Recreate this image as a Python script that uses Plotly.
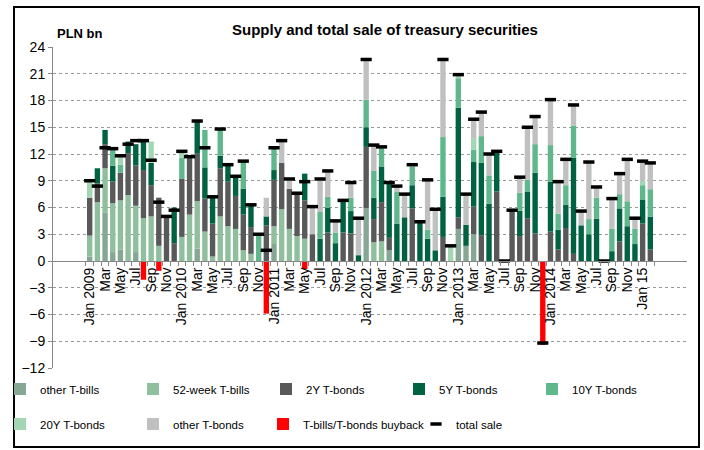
import plotly.graph_objects as go

months = ["Jan", "Feb", "Mar", "Apr", "May", "Jun", "Jul", "Aug", "Sep", "Oct", "Nov", "Dec"]
categories = [f"{m} {y}" for y in range(2009, 2016) for m in months][:74]
tick_text = []
for i, c in enumerate(categories):
    m, y = c.split()
    if i % 2 == 1:
        tick_text.append("")
    elif m == "Jan":
        tick_text.append("Jan 15" if y == "2015" else c)
    else:
        tick_text.append(m)

other_tbills = [0.5, 0, 5.4, 1.0, 1.3, 0, 1.0, 0, 0, 0, 0, 0,
                0, 0, 1.4, 0, 0, 0, 0, 0, 0, 0, 0, 0,
                2.0, 0, 0, 0, 0, 0, 0, 0, 0, 0, 0, 0,
                5.9, 0, 0, 1.2, 0, 0, 0, 0, 0, 0, 0, 0,
                3.6, 1.7, 3.0, 0, 0, 0, 0, 0, 0, 0, 0, 0,
                0, 0, 0, 0, 0, 0, 0, 0, 0, 0, 0, 0,
                0, 0]
week52_tbills = [2.35, 6.6, 5.0, 5.5, 5.5, 7.4, 5.2, 4.8, 5.0, 1.7, 0, 0,
                 2.7, 5.2, 5.3, 3.3, 0.5, 5.0, 3.9, 3.6, 1.2, 0.8, 0, 0,
                 1.9, 5.8, 3.6, 2.8, 2.5, 0, 0, 0, 0, 0, 0, 0,
                 0, 2.1, 2.2, 0, 0, 0, 0, 0, 0, 0, 0, 0,
                 0, 0, 0, 0, 0, 0, 0, 0, 0, 0, 0, 0,
                 0, 0, 0, 0, 0, 0, 0, 0, 0, 0, 0, 0,
                 0, 0]
bonds_2y = [4.25, 2.1, 2.7, 2.4, 3.1, 4.7, 4.5, 5.4, 3.5, 5.4, 5.0, 2.0,
            6.5, 6.5, 5.4, 3.7, 3.7, 5.4, 5.0, 3.7, 4.0, 3.0, 0, 4.0,
            5.2, 5.2, 4.5, 4.8, 4.3, 3.0, 0, 3.2, 0, 3.2, 3.1, 0,
            6.9, 2.6, 4.4, 1.4, 0, 0, 5.9, 0, 0, 0, 2.7, 0,
            1.3, 0, 3.1, 2.9, 0, 7.8, 0, 5.7, 2.8, 4.8, 3.1, 0,
            3.3, 1.3, 3.7, 0.8, 0, 0, 0, 0, 0, 2.2, 0, 0,
            4.2, 1.3]
bonds_5y = [0, 1.7, 1.6, 1.8, 0, 1.3, 2.4, 3.3, 2.5, 0, 0, 4.0,
            0, 0, 3.5, 3.5, 2.9, 1.4, 2.0, 2.2, 2.9, 2.5, 0, 1.0,
            1.1, 0, 0, 0, 3.0, 0, 2.5, 2.8, 2.0, 3.6, 2.5, 0.65,
            2.2, 2.4, 4.0, 6.2, 4.2, 4.9, 2.6, 4.3, 2.5, 1.2, 4.5, 0,
            12.3, 2.35, 5.0, 8.1, 6.4, 4.4, 0, 0, 2.85, 3.0, 6.8, 0,
            5.6, 2.2, 2.6, 10.8, 4.0, 3.0, 4.75, 0, 1.1, 3.7, 3.9, 1.9,
            2.7, 3.65]
bonds_10y = [0, 0, 0, 1.8, 0.9, 0, 0, 0, 0, 0, 0, 0,
             2.4, 0, 0, 4.2, 0, 2.9, 0, 0, 3.0, 0, 2.9, 0,
             2.4, 0, 0, 0, 0, 0, 3.0, 1.2, 1.2, 0, 1.5, 0,
             3.1, 3.0, 2.3, 0, 3.6, 0, 2.1, 0, 1.0, 0, 6.7, 0,
             3.3, 0, 1.4, 3.0, 3.2, 0, 0, 0, 2.0, 1.3, 3.2, 0,
             4.1, 1.8, 2.2, 3.6, 0, 1.7, 2.35, 0, 2.5, 1.6, 2.8, 1.7,
             1.6, 3.1]
bonds_20y = [1.9, 0, 0, 0, 0.9, 0, 0, 0, 2.4, 0, 0, 0,
             0.7, 0, 0, 0, 0, 0, 0, 0, 0, 0, 0, 0,
             0, 0, 0, 0, 0, 0, 0, 0, 0, 0, 0, 0,
             0, 0, 0, 0, 0, 0, 0, 0, 0, 0, 0, 1.7,
             0.4, 0, 1.2, 0, 0, 0, 0, 0, 0, 0, 0, 0,
             0, 0, 0, 0, 0, 0, 0, 0, 0, 0, 0, 0,
             0.5, 0]
other_tbonds = [0, 0, 0, 0, 0, 0, 0, 0, 0, 0, 0, 0,
                0, 0, 0, 0, 0, 0, 0, 0, 0, 0, 0, 2.1,
                0, 2.5, 1.1, 0, 0, 3.1, 3.7, 2.9, 1.3, 0, 1.7, 4.15,
                4.5, 2.9, 0, 0, 0.6, 2.5, 0, 0, 5.5, 4.5, 8.7, 0,
                0, 3.45, 2.2, 2.8, 2.4, 0, 0, 0, 1.8, 5.9, 3.1, 0,
                5.1, 3.6, 2.9, 2.3, 1.6, 6.4, 1.2, 0, 3.4, 2.2, 4.6, 1.1,
                2.1, 3.0]
buyback = [0, 0, 0, 0, 0, 0, 0, -2.1, 0, -1.1, -0.1, 0,
           0, 0, 0, 0, 0, 0, -0.1, -0.1, 0, 0, 0, -5.9,
           0, 0, 0, 0, -0.9, 0, 0, 0, 0, 0, 0, 0,
           0, 0, 0, 0, 0, 0, 0, 0, 0, 0, 0, 0,
           0, 0, 0, 0, 0, 0, 0, 0, 0, 0, 0, -9.4,
           0, 0, 0, 0, 0, 0, 0, 0, 0, 0, 0, 0,
           0, 0]
total_sale = [9.0, 8.4, 12.7, 12.6, 11.8, 13.1, 13.5, 13.5, 11.3, 6.6, 5.0, 5.7,
              12.3, 11.7, 15.7, 12.7, 7.2, 14.8, 10.8, 9.5, 11.2, 6.3, 3.0, 1.2,
              12.7, 13.5, 9.2, 7.6, 8.9, 6.1, 9.2, 10.1, 4.5, 6.8, 8.8, 4.8,
              22.6, 13.0, 12.8, 8.8, 8.4, 7.5, 10.8, 4.4, 9.1, 5.8, 22.6, 1.7,
              20.9, 7.5, 15.9, 16.7, 12.0, 12.3, 0, 5.7, 9.4, 15.0, 16.2, -9.2,
              18.1, 8.9, 11.4, 17.5, 5.6, 11.1, 8.3, 0, 7.0, 9.8, 11.4, 4.8,
              11.2, 11.0]

series = [
    ("other T-bills", other_tbills, "#86a793", "legend"),
    ("52-week T-bills", week52_tbills, "#8fbf9d", "legend"),
    ("2Y T-bonds", bonds_2y, "#595959", "legend"),
    ("5Y T-bonds", bonds_5y, "#006241", "legend"),
    ("10Y T-bonds", bonds_10y, "#5fb78b", "legend"),
    ("20Y T-bonds", bonds_20y, "#a3d6b3", "legend2"),
    ("other T-bonds", other_tbonds, "#c0c0c0", "legend2"),
    ("T-bills/T-bonds buyback", buyback, "#ff0000", "legend3"),
]

fig = go.Figure()
for name, vals, color, leg in series:
    fig.add_trace(go.Bar(x=categories, y=vals, name=name, marker_color=color,
                         marker_line_width=0, legend=leg))
fig.add_trace(go.Scatter(x=categories, y=total_sale, name="total sale", mode="markers",
                         marker=dict(symbol="line-ew", size=8,
                                     line=dict(width=3.5, color="black"), color="black"),
                         legend="legend4"))

W, H = 704, 450
L, R, T, B = 53, 17, 47, 82
pw, ph = W - L - R, H - T - B

def px(x):
    return (x - L) / pw

def py(y):
    return (H - B - y) / ph

font = "Arial, Liberation Sans, sans-serif"
ymin, ymax = -12, 24
legend_common = dict(orientation="h", xanchor="left", yanchor="middle",
                     entrywidth=88, entrywidthmode="pixels",
                     font=dict(family=font, size=11.5, color="black"),
                     bgcolor="rgba(0,0,0,0)", itemwidth=30)
legend_auto = dict(orientation="h", xanchor="left", yanchor="middle",
                   font=dict(family=font, size=11.5, color="black"),
                   bgcolor="rgba(0,0,0,0)", itemwidth=30)

fig.update_layout(
    width=W, height=H,
    margin=dict(l=L, r=R, t=T, b=B, autoexpand=False),
    paper_bgcolor="white", plot_bgcolor="white",
    barmode="relative", bargap=0.3,
    font=dict(family=font, size=13, color="black"),
    title=dict(text="Supply and total sale of treasury securities",
               x=385 / W, xanchor="center", y=1 - 30 / H, yanchor="middle",
               font=dict(family=font, size=15, color="black", weight="bold")),
    xaxis=dict(type="category", tickvals=categories, ticktext=tick_text,
               tickangle=-90, tickson="boundaries", ticks="outside", ticklen=4,
               tickcolor="#888", showline=True, linecolor="#888", linewidth=1,
               showgrid=False, anchor="free",
               position=(0 - ymin) / (ymax - ymin),
               tickfont=dict(family=font, size=14, color="black")),
    yaxis=dict(range=[ymin, ymax], dtick=3, tick0=0, showgrid=True,
               gridcolor="#999", griddash="dot", gridwidth=1, zeroline=False,
               showline=True, linecolor="#888", ticks="outside", ticklen=4,
               tickcolor="#888",
               tickfont=dict(family=font, size=14, color="black")),
    legend=dict(x=px(0), y=py(389), **legend_common),
    legend2=dict(x=px(0), y=py(424), **legend_common),
    legend3=dict(x=px(263), y=py(424), **legend_auto),
    legend4=dict(x=px(416), y=py(424), **legend_auto),
    annotations=[dict(text="<b>PLN bn</b>", xref="paper", yref="paper",
                      x=px(80), y=py(33), xanchor="center", yanchor="middle",
                      showarrow=False, font=dict(family=font, size=13, color="black"))],
    shapes=[dict(type="rect", xref="paper", yref="paper",
                 x0=px(14), x1=px(699), y0=py(447), y1=py(7),
                 line=dict(color="black", width=2), fillcolor="rgba(0,0,0,0)",
                 layer="above")],
)

fig.write_html("out.html", config={"displayModeBar": False},
               post_script="document.body.style.margin='0';document.body.style.overflow='hidden';")
